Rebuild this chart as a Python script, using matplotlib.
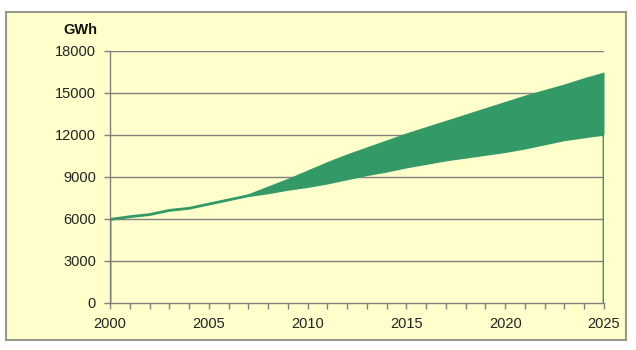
import matplotlib
matplotlib.use("Agg")
import matplotlib.pyplot as plt
from matplotlib.patches import Rectangle

years = list(range(2000, 2026))
lower = [5950, 6150, 6300, 6600, 6750, 7050, 7350, 7650, 7850, 8100,
         8300, 8550, 8850, 9150, 9400, 9700, 9950, 10200, 10400, 10600,
         10800, 11050, 11350, 11650, 11850, 12050]
upper = [5950, 6150, 6300, 6600, 6750, 7050, 7350, 7800, 8350, 8900,
         9500, 10100, 10650, 11150, 11650, 12150, 12600, 13050, 13500, 13950,
         14400, 14850, 15250, 15650, 16100, 16500]
yticks = [0, 3000, 6000, 9000, 12000, 15000, 18000]
xticklabels = [2000, 2005, 2010, 2015, 2020, 2025]
unit_label = "GWh"

W, H = 636, 350
fig = plt.figure(figsize=(W / 100, H / 100), dpi=100)
fig.patch.set_facecolor("white")
plt.rcParams['font.family'] = ['Liberation Sans', 'DejaVu Sans']

# outer frame
fig.patches.append(Rectangle((6 / W, 1 - 340 / H), 620 / W, 328 / H,
                             transform=fig.transFigure, facecolor="#FFFFCC",
                             edgecolor="#9A9A8A", linewidth=1.5, zorder=-10))

ax = fig.add_axes([110 / W, 1 - 302.7 / H, 494 / W, 251.7 / H])
ax.set_zorder(1)
ax.set_facecolor("none")
green = "#339966"

ax.fill_between(years, lower, upper, color=green, linewidth=0, zorder=3)
ax.plot([years[0]] + years + [years[-1]], [0] + lower + [0],
        color=green, linewidth=2, zorder=4, solid_joinstyle="round")

ax.set_xlim(2000, 2025)
ax.set_ylim(0, 18000)
ax.set_yticks(yticks)
ax.set_yticklabels([str(v) for v in yticks])
ax.set_xticks(years, minor=False)
ax.set_xticklabels([str(y) if y in xticklabels else "" for y in years])
for v in yticks[1:]:
    ax.axhline(v, color="#808080", linewidth=1, zorder=1)

for s in ["top", "right"]:
    ax.spines[s].set_visible(False)
for s in ["left", "bottom"]:
    ax.spines[s].set_color("#808080")
    ax.spines[s].set_linewidth(1)
    ax.spines[s].set_zorder(5)
ax.tick_params(axis="both", direction="out", length=4, width=1, color="#808080",
               labelsize=10.5, labelcolor="#222222")
ax.tick_params(axis="y", pad=6)
ax.tick_params(axis="x", pad=6)

fig.text(80 / W, 1 - 30 / H, unit_label, ha="center", va="center",
         fontsize=10.5, fontweight="bold", color="#111111")

fig.savefig("out.png", dpi=100)
